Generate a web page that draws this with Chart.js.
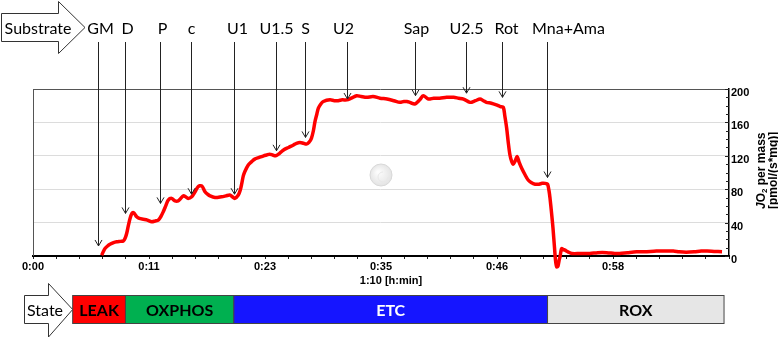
<!DOCTYPE html>
<html>
<head>
<meta charset="utf-8">
<script src="https://cdn.jsdelivr.net/npm/chart.js@4"></script>
<style>
html,body{margin:0;padding:0;background:#fff;}
#wrap{position:relative;width:778px;height:338px;}
</style>
</head>
<body>
<div id="wrap"><canvas id="c"></canvas></div>
<script>
// ---- data ----
const timeMin = [6.91,7.1,7.24,7.5,7.74,8.1,8.42,8.8,9.08,9.25,9.42,9.6,9.76,9.95,10.1,10.25,10.43,10.7,11.1,11.5,11.94,12.3,12.6,12.85,13.1,13.35,13.6,13.95,14.28,14.6,14.85,15.12,15.35,15.6,15.96,16.3,16.6,16.97,17.3,17.55,17.8,18.3,18.97,19.4,19.8,20.05,20.3,20.65,20.85,21.0,21.15,21.3,21.65,22.0,22.3,22.75,23.2,23.5,23.8,24.1,24.4,24.8,25.2,25.7,26.2,26.5,26.85,27.2,27.5,27.75,28.0,28.2,28.36,28.55,28.7,28.95,29.2,29.87,30.3,30.7,31.1,31.55,32.0,32.55,33.0,33.56,34.2,34.9,35.6,36.3,36.9,37.3,37.6,37.9,38.4,38.9,39.25,39.76,40.3,40.9,41.6,42.3,42.8,43.3,43.95,44.5,44.96,45.3,45.6,46.1,46.6,47.0,47.3,47.45,47.64,47.8,47.97,48.15,48.3,48.5,48.7,48.9,49.15,49.5,49.8,50.1,50.5,50.9,51.2,51.5,51.75,51.9,52.0,52.15,52.3,52.45,52.55,52.67,52.8,52.9,53.0,53.1,53.17,53.3,53.5,53.8,54.2,55.0,56.0,56.8,57.7,58.5,59.0,59.8,60.7,61.5,62.7,63.5,64.4,65.0,65.7,66.5,67.2,67.8,68.5,69.3];
const jo2 = [1,6,9,12,14,16,17,17.5,18,21,27,37,45,51,52,50,47,45,44,43,41,42,43,47,53,60,67,69,66,66,69,72,71,69,71,77,83,84,77,74,72,70,71,72,73,71,69,73,79,87,96,101,109,113,116,118,120,121,122,121,120,123,127,130,133,135,136,135,134,136,141,150,161,170,177,182,185,187,186,186,187,187,189,192,191,190,191,189,188,186,184,185,185,184,182,187,192,188,189,189,190,190,189,188,184,186,188,186,184,183,181,179,178,168,153,136,121,113,110,114,119,112,105,97,91,88,86,86,87,87,86,78,69,52,33,10,-5,-13,-12,-6,-1,6,9,8,7,5,3,3,3,4,4,3,3,4,5,5,6,6,6,5,4.5,5,6,6,5.5,5];

const eventLabels = ['GM','D','P','c','U1','U1.5','S','U2','Sap','U2.5','Rot','Mna+Ama'];
const eventTimes = [6.57,9.28,12.77,15.94,20.18,24.44,27.36,31.55,38.39,43.55,47.2,51.73];
const eventTipValues = [12,51,63,74,74,126,142,188,192,195,190,94];

const stateNames = ['LEAK','OXPHOS','ETC','ROX'];
const stateBounds = [3.99,9.3,20.2,51.75,69.5];

const xTickLabels = ['0:00','0:11','0:23','0:35','0:46','0:58'];
const xAxisTitle = '1:10 [h:min]';
const yTickLabels = ['0','40','80','120','160','200'];
const yTitleLine1 = ['J','O','2',' per mass'];
const yTitleLine2 = '[pmol/(s*mg)]';

// ---- styles ----
const labelDx = [2,2,2,0,3,0,0,-4,1,0,4,21];
const stateFill = ['#ff0000','#00b050','#1515ff','#e6e6e6'];
const stateText = ['#000','#000','#fff','#000'];

const points = timeMin.map((t,i)=>({x:t,y:jo2[i]}));

function drawArrowBox(ctx, x0, yT, yB, xh, hT, hB, tip, yTip, text, tx, ty){
  ctx.save();
  ctx.beginPath();
  ctx.moveTo(x0,yT); ctx.lineTo(xh,yT); ctx.lineTo(xh,hT); ctx.lineTo(tip,yTip);
  ctx.lineTo(xh,hB); ctx.lineTo(xh,yB); ctx.lineTo(x0,yB); ctx.closePath();
  ctx.fillStyle='#fff'; ctx.fill();
  ctx.strokeStyle='#333'; ctx.lineWidth=1; ctx.stroke();
  ctx.fillStyle='#000'; ctx.font='16px Lato'; ctx.textAlign='center'; ctx.textBaseline='alphabetic';
  ctx.fillText(text, tx, ty);
  ctx.restore();
}

const overlay = {
  id:'overlay',
  beforeDatasetsDraw(chart){
    const ctx=chart.ctx, xs=chart.scales.x, ys=chart.scales.y, ca=chart.chartArea;
    ctx.save();
    // watermark
    const cx=xs.getPixelForValue(35.0), cy=ys.getPixelForValue(97);
    const g=ctx.createRadialGradient(cx-3,cy-3,1,cx,cy,12);
    g.addColorStop(0,'#fcfcfc'); g.addColorStop(1,'#e2e2e2');
    ctx.fillStyle=g; ctx.beginPath(); ctx.arc(cx,cy,11,0,Math.PI*2); ctx.fill();
    ctx.strokeStyle='#d8d8d8'; ctx.lineWidth=1; ctx.stroke();
    ctx.strokeStyle='#e8e8e8'; ctx.beginPath(); ctx.arc(cx+2,cy+2,5,0,Math.PI*1.5); ctx.stroke();
    // left border
    ctx.strokeStyle='#555'; ctx.lineWidth=1;
    ctx.beginPath(); ctx.moveTo(ca.left+0.5,ca.top); ctx.lineTo(ca.left+0.5,ca.bottom); ctx.stroke();
    ctx.restore();
  },
  afterDraw(chart){
    const ctx=chart.ctx, xs=chart.scales.x, ys=chart.scales.y, ca=chart.chartArea;
    ctx.save();
    // y inward ticks
    ctx.strokeStyle='#222'; ctx.lineWidth=1;
    for(let v=0; v<=200; v+=10){
      const y=Math.round(ys.getPixelForValue(v))+0.5;
      ctx.beginPath(); ctx.moveTo(ca.right-(v%40===0?4:3),y); ctx.lineTo(ca.right,y); ctx.stroke();
    }
    // event arrows and labels
    ctx.font='16px Lato'; ctx.textAlign='center'; ctx.textBaseline='alphabetic'; ctx.fillStyle='#000';
    eventLabels.forEach((lab,i)=>{
      const x=Math.round(xs.getPixelForValue(eventTimes[i]))+0.5;
      const yt=ys.getPixelForValue(eventTipValues[i]);
      ctx.strokeStyle='#222'; ctx.lineWidth=1;
      ctx.beginPath(); ctx.moveTo(x,42); ctx.lineTo(x,yt); ctx.stroke();
      ctx.beginPath(); ctx.moveTo(x-3.5,yt-6); ctx.lineTo(x,yt); ctx.lineTo(x+3.5,yt-6); ctx.stroke();
      ctx.fillText(lab, x+labelDx[i], 34);
    });
    // Substrate arrow
    drawArrowBox(ctx, 1.5, 13.5, 41.5, 58.5, 1.5, 53.5, 85, 27.5, 'Substrate', 38, 33.5);
    // State arrow
    drawArrowBox(ctx, 24.5, 295.5, 323.5, 48.5, 283.5, 337, 72.7, 309.5, 'State', 45, 315.5);
    // State bars
    for(let i=0;i<stateNames.length;i++){
      const x0=xs.getPixelForValue(stateBounds[i]);
      const x1=xs.getPixelForValue(stateBounds[i+1]);
      ctx.fillStyle=stateFill[i];
      ctx.fillRect(x0,295.5,x1-x0,28);
      ctx.strokeStyle='#444'; ctx.lineWidth=1;
      ctx.strokeRect(x0,295.5,x1-x0,28);
      ctx.fillStyle=stateText[i]; ctx.font='bold 16px Lato'; ctx.textAlign='center'; ctx.textBaseline='alphabetic';
      ctx.fillText(stateNames[i],(x0+x1)/2,315.5);
    }
    // x axis title
    ctx.fillStyle='#000'; ctx.font='bold 11px "Liberation Sans"'; ctx.textAlign='center'; ctx.textBaseline='middle';
    ctx.fillText(xAxisTitle, 391, 281);
    // y title (rotated)
    ctx.save();
    ctx.translate(762,209); ctx.rotate(-Math.PI/2);
    ctx.textAlign='left'; ctx.textBaseline='middle';
    let px=0;
    ctx.font='bold italic 12px "Liberation Sans"'; ctx.fillText(yTitleLine1[0],px,0); px+=ctx.measureText(yTitleLine1[0]).width;
    ctx.font='bold 12px "Liberation Sans"'; ctx.fillText(yTitleLine1[1],px,0); px+=ctx.measureText(yTitleLine1[1]).width;
    ctx.font='bold 8px "Liberation Sans"'; ctx.fillText(yTitleLine1[2],px,3); px+=ctx.measureText(yTitleLine1[2]).width;
    ctx.font='bold 12px "Liberation Sans"'; ctx.fillText(yTitleLine1[3],px,0);
    ctx.fillText(yTitleLine2,0,12);
    ctx.restore();
    ctx.restore();
  }
};

new Chart(document.getElementById('c'),{
  type:'line',
  data:{datasets:[{
    data:points,
    borderColor:'#ff0000',
    borderWidth:3.5,
    pointRadius:0,
    tension:0.3,
    fill:false,
    clip:false
  }]},
  options:{
    responsive:true, maintainAspectRatio:false, animation:false,
    layout:{padding:{left:33,top:89,right:0,bottom:66}},
    plugins:{legend:{display:false},tooltip:{enabled:false}},
    scales:{
      x:{
        type:'linear', min:0, max:70,
        afterBuildTicks:(s)=>{ const t=[]; for(let i=0;i<=30;i++) t.push({value:i*70/30}); s.ticks=t; },
        afterFit:(s)=>{ s.height=16; },
        ticks:{autoSkip:false, maxRotation:0, padding:1,
          font:{family:'"Liberation Sans"',size:11,weight:'bold'}, color:'#000',
          callback:(v,i)=> (i%5===0 && i/5 < xTickLabels.length) ? xTickLabels[i/5] : ''},
        grid:{drawOnChartArea:false, drawTicks:true, tickLength:3, tickColor:'#222'},
        border:{display:true,color:'#000',width:2}
      },
      y:{
        position:'right', min:0, max:200,
        afterBuildTicks:(s)=>{ s.ticks=yTickLabels.map(l=>({value:+l})); },
        afterFit:(s)=>{ s.width=49; },
        ticks:{autoSkip:false, padding:2, labelOffset:4,
          font:{family:'"Liberation Sans"',size:11,weight:'bold'}, color:'#000',
          callback:(v,i)=>yTickLabels[i]},
        grid:{drawTicks:false,
          color:(c)=> c.tick && c.tick.value===200 ? '#555' : (c.tick && c.tick.value===0 ? 'rgba(0,0,0,0)' : '#dcdcdc'),
          lineWidth:1},
        border:{display:true,color:'#000',width:1.5}
      }
    }
  },
  plugins:[overlay]
});
</script>
</body>
</html>
